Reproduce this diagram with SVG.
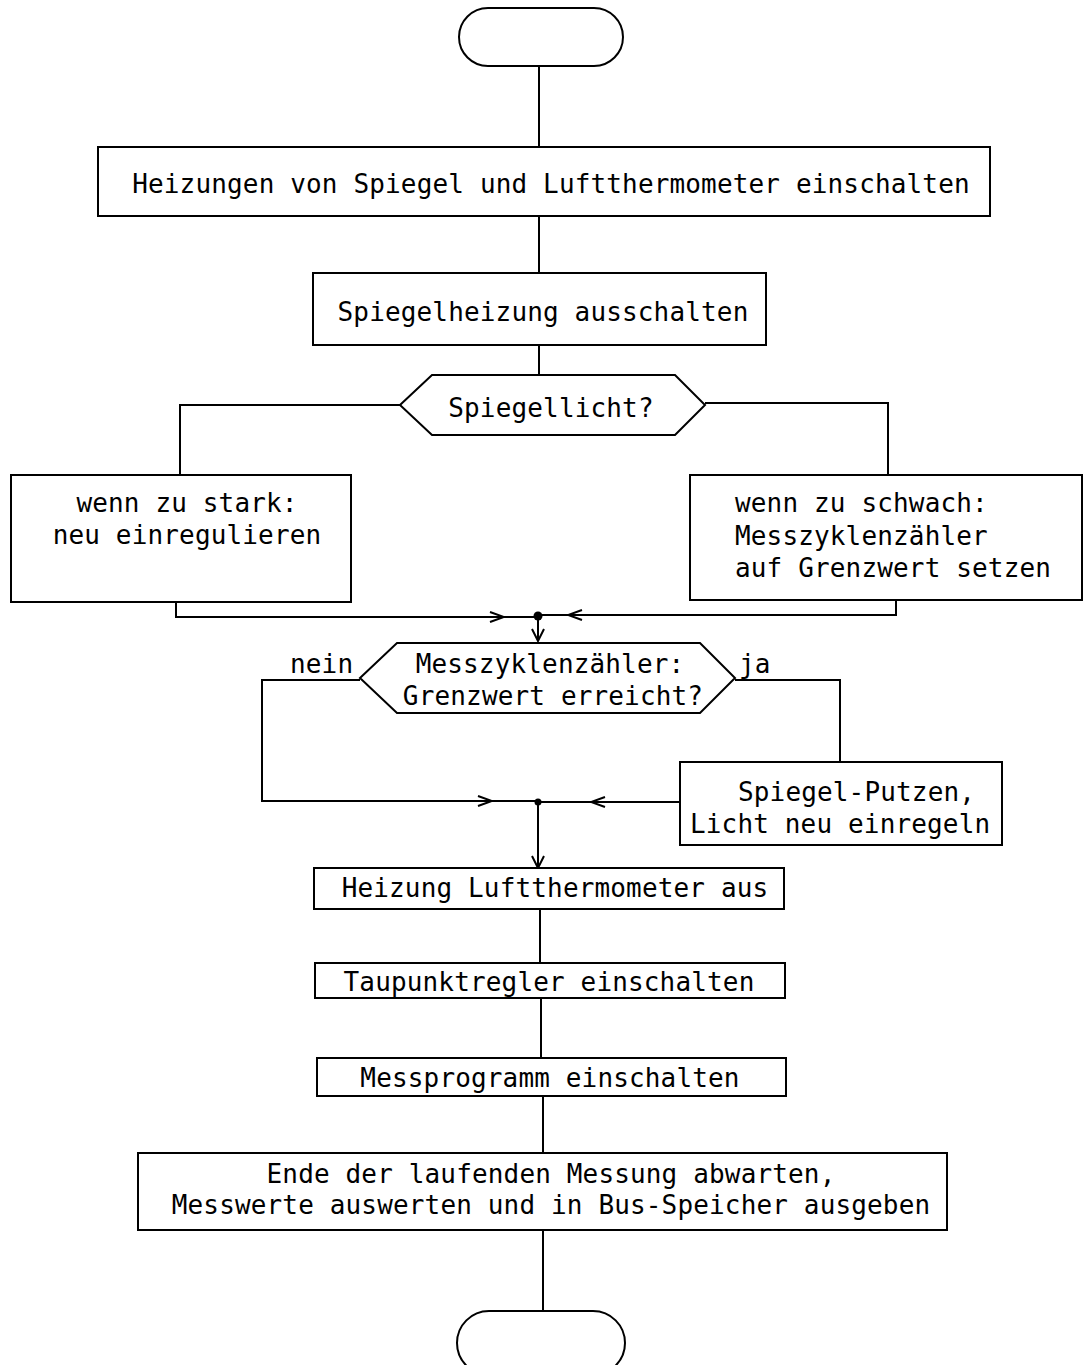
<svg xmlns="http://www.w3.org/2000/svg" width="1089" height="1365" viewBox="0 0 1089 1365">
<defs>
<style>
.s{fill:#fff;stroke:#000;stroke-width:2}
.c{fill:none;stroke:#000;stroke-width:2}
.t{font-family:"DejaVu Sans Mono","Liberation Mono",monospace;font-size:26px;letter-spacing:0.15px;fill:#000}
.m{text-anchor:middle}
</style>
<marker id="ah" viewBox="0 0 14 14" refX="13" refY="7" markerWidth="14" markerHeight="14" markerUnits="userSpaceOnUse" orient="auto">
<path d="M1,1 L13,7 L1,13" fill="none" stroke="#000" stroke-width="2"/>
</marker>
<marker id="ao" viewBox="0 0 18 12" refX="9" refY="6" markerWidth="18" markerHeight="12" markerUnits="userSpaceOnUse" orient="auto">
<path d="M2,1 L16,6 L2,11" fill="none" stroke="#000" stroke-width="2"/>
</marker>
</defs>
<rect width="1089" height="1365" fill="#fff"/>
<g id="connectors">
<line class="c" x1="539" y1="66" x2="539" y2="147"/>
<line class="c" x1="539" y1="216" x2="539" y2="273"/>
<line class="c" x1="539" y1="345" x2="539" y2="375"/>
<polyline class="c" points="400,405 180,405 180,475"/>
<polyline class="c" points="705,403 888,403 888,475"/>
<polyline class="c" points="176,602 176,617 538,617"/>
<line class="c" x1="176" y1="617" x2="497" y2="617" marker-end="url(#ao)"/>
<polyline class="c" points="896,600 896,615 538,615"/>
<line class="c" x1="896" y1="615" x2="575" y2="615" marker-end="url(#ao)"/>
<circle cx="538" cy="616" r="4.5" fill="#000"/>
<line class="c" x1="538" y1="616" x2="538" y2="641" marker-end="url(#ah)"/>
<polyline class="c" points="360,680 262,680 262,801 538,801"/>
<line class="c" x1="262" y1="801" x2="485" y2="801" marker-end="url(#ao)"/>
<polyline class="c" points="735,680 840,680 840,762"/>
<line class="c" x1="680" y1="802" x2="538" y2="802"/>
<line class="c" x1="680" y1="802" x2="598" y2="802" marker-end="url(#ao)"/>
<circle cx="538" cy="802" r="3.5" fill="#000"/>
<line class="c" x1="538" y1="802" x2="538" y2="868" marker-end="url(#ah)"/>
<line class="c" x1="540" y1="909" x2="540" y2="963"/>
<line class="c" x1="541" y1="998" x2="541" y2="1058"/>
<line class="c" x1="543" y1="1096" x2="543" y2="1153"/>
<line class="c" x1="543" y1="1230" x2="543" y2="1311"/>
</g>
<g id="start"><rect class="s" x="459" y="8" width="164" height="58" rx="29"/></g>
<g id="n1"><rect class="s" x="98" y="147" width="892" height="69"/>
<text class="t m" x="551" y="193">Heizungen von Spiegel und Luftthermometer einschalten</text></g>
<g id="n2"><rect class="s" x="313" y="273" width="453" height="72"/>
<text class="t m" x="543" y="321">Spiegelheizung ausschalten</text></g>
<g id="d1"><polygon class="s" points="400,405 432,375 675,375 705,405 675,435 432,435"/>
<text class="t m" x="551" y="417">Spiegellicht?</text></g>
<g id="n3"><rect class="s" x="11" y="475" width="340" height="127"/>
<text class="t m" x="187" y="512">wenn zu stark:</text>
<text class="t m" x="187" y="544">neu einregulieren</text></g>
<g id="n4"><rect class="s" x="690" y="475" width="392" height="125"/>
<text class="t" x="735" y="512">wenn zu schwach:</text>
<text class="t" x="735" y="545">Messzyklenzähler</text>
<text class="t" x="735" y="577">auf Grenzwert setzen</text></g>
<g id="d2"><polygon class="s" points="360,678 397,643 700,643 735,678 700,713 397,713"/>
<text class="t m" x="550" y="673">Messzyklenzähler:</text>
<text class="t m" x="553" y="705">Grenzwert erreicht?</text>
<text class="t" x="290" y="673">nein</text>
<text class="t" x="739" y="673">ja</text></g>
<g id="n5"><rect class="s" x="680" y="762" width="322" height="83"/>
<text class="t" x="738" y="801">Spiegel-Putzen,</text>
<text class="t" x="690" y="833">Licht neu einregeln</text></g>
<g id="n6"><rect class="s" x="314" y="868" width="470" height="41"/>
<text class="t m" x="555" y="897">Heizung Luftthermometer aus</text></g>
<g id="n7"><rect class="s" x="315" y="963" width="470" height="35"/>
<text class="t m" x="549" y="991">Taupunktregler einschalten</text></g>
<g id="n8"><rect class="s" x="317" y="1058" width="469" height="38"/>
<text class="t m" x="550" y="1087">Messprogramm einschalten</text></g>
<g id="n9"><rect class="s" x="138" y="1153" width="809" height="77"/>
<text class="t m" x="551" y="1183">Ende der laufenden Messung abwarten,</text>
<text class="t m" x="551" y="1214">Messwerte auswerten und in Bus-Speicher ausgeben</text></g>
<g id="end"><rect class="s" x="457" y="1311" width="168" height="64" rx="32"/></g>
</svg>
